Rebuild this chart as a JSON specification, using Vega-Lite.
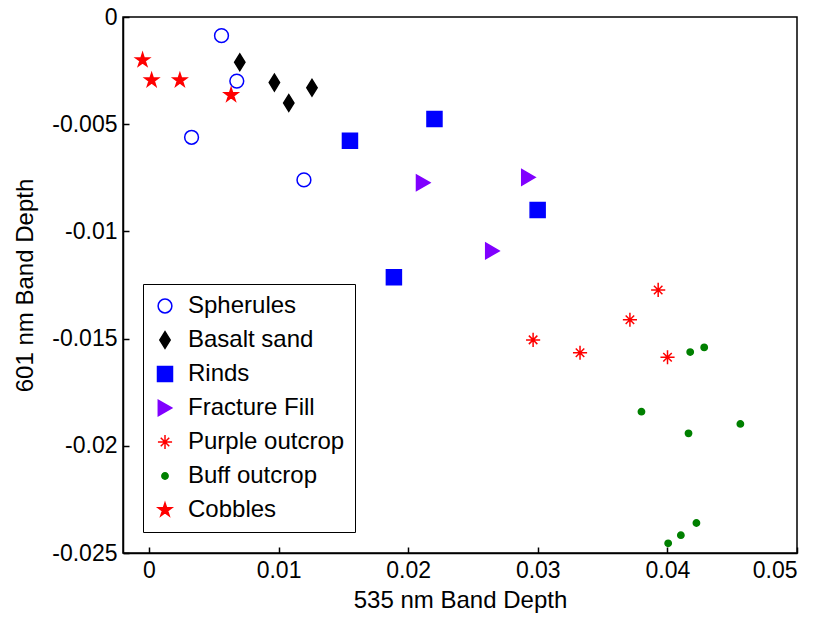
{
  "$schema": "https://vega.github.io/schema/vega-lite/v6.json",
  "width": 674,
  "height": 536,
  "autosize": "none",
  "padding": {"left": 123, "top": 17, "right": 25, "bottom": 67},
  "background": "white",
  "data": {"values": [
    {"group": "Spherules", "x": 0.0056, "y": -0.00087},
    {"group": "Spherules", "x": 0.00678, "y": -0.00299},
    {"group": "Spherules", "x": 0.00329, "y": -0.00561},
    {"group": "Spherules", "x": 0.01196, "y": -0.0076},
    {"group": "Basalt sand", "x": 0.00701, "y": -0.00211},
    {"group": "Basalt sand", "x": 0.00968, "y": -0.00306},
    {"group": "Basalt sand", "x": 0.01079, "y": -0.00401},
    {"group": "Basalt sand", "x": 0.01258, "y": -0.0033},
    {"group": "Rinds", "x": 0.02203, "y": -0.00476},
    {"group": "Rinds", "x": 0.01551, "y": -0.00577},
    {"group": "Rinds", "x": 0.02999, "y": -0.009},
    {"group": "Rinds", "x": 0.0189, "y": -0.01214},
    {"group": "Fracture Fill", "x": 0.02116, "y": -0.00773},
    {"group": "Fracture Fill", "x": 0.02928, "y": -0.00748},
    {"group": "Fracture Fill", "x": 0.0265, "y": -0.01091},
    {"group": "Purple outcrop", "x": 0.03929, "y": -0.01273},
    {"group": "Purple outcrop", "x": 0.03711, "y": -0.01412},
    {"group": "Purple outcrop", "x": 0.02964, "y": -0.01506},
    {"group": "Purple outcrop", "x": 0.03326, "y": -0.01566},
    {"group": "Purple outcrop", "x": 0.04001, "y": -0.01587},
    {"group": "Buff outcrop", "x": 0.04176, "y": -0.01563},
    {"group": "Buff outcrop", "x": 0.04284, "y": -0.01541},
    {"group": "Buff outcrop", "x": 0.038, "y": -0.01841},
    {"group": "Buff outcrop", "x": 0.04163, "y": -0.01942},
    {"group": "Buff outcrop", "x": 0.04563, "y": -0.01898},
    {"group": "Buff outcrop", "x": 0.04224, "y": -0.0236},
    {"group": "Buff outcrop", "x": 0.04104, "y": -0.02417},
    {"group": "Buff outcrop", "x": 0.04006, "y": -0.02455},
    {"group": "Cobbles", "x": -0.00049, "y": -0.00201},
    {"group": "Cobbles", "x": 0.00021, "y": -0.00295},
    {"group": "Cobbles", "x": 0.00239, "y": -0.00295},
    {"group": "Cobbles", "x": 0.00634, "y": -0.00364}
  ]},
  "mark": {"type": "point", "opacity": 1, "fillOpacity": 1, "strokeWidth": 1.5},
  "encoding": {
    "x": {"field": "x", "type": "quantitative",
      "scale": {"domain": [-0.002, 0.05], "nice": false, "zero": false},
      "axis": {"orient": "bottom", "values": [0, 0.01, 0.02, 0.03, 0.04, 0.05], "labelExpr": "replace(format(datum.value, '~g'), '\u2212', '-')", "title": "535 nm Band Depth", "grid": false, "tickSize": -6, "labelPadding": 12, "titlePadding": 6}},
    "y": {"field": "y", "type": "quantitative",
      "scale": {"domain": [-0.025, 0], "nice": false, "zero": false},
      "axis": {"orient": "left", "values": [0, -0.005, -0.01, -0.015, -0.02, -0.025], "labelExpr": "replace(format(datum.value, '~g'), '\u2212', '-')", "title": "601 nm Band Depth", "grid": false, "tickSize": -6, "labelPadding": 12, "titlePadding": 14}},
    "shape": {"field": "group", "type": "nominal",
      "scale": {"domain": ["Spherules", "Basalt sand", "Rinds", "Fracture Fill", "Purple outcrop", "Buff outcrop", "Cobbles"],
        "range": ["circle", "M0,-1L0.62,0L0,1L-0.62,0Z", "square", "triangle-right", "M-1,0L1,0M0,-1L0,1M-0.6,-0.6L0.6,0.6M-0.6,0.6L0.6,-0.6", "circle", "M0,-1L0.2234,-0.3074L0.9511,-0.309L0.3614,0.1174L0.5878,0.809L0,0.38L-0.5878,0.809L-0.3614,0.1174L-0.9511,-0.309L-0.2234,-0.3074Z"]},
      "legend": {"title": null, "orient": "none", "legendX": 20, "legendY": 267}},
    "fill": {"field": "group", "type": "nominal",
      "scale": {"domain": ["Spherules", "Basalt sand", "Rinds", "Fracture Fill", "Purple outcrop", "Buff outcrop", "Cobbles"],
        "range": ["transparent", "#000000", "#0000ff", "#8000ff", "#ff0000", "#008000", "#ff0000"]},
      "legend": {"title": null, "orient": "none", "legendX": 20, "legendY": 267}},
    "stroke": {"field": "group", "type": "nominal",
      "scale": {"domain": ["Spherules", "Basalt sand", "Rinds", "Fracture Fill", "Purple outcrop", "Buff outcrop", "Cobbles"],
        "range": ["#0000ff", "#000000", "#0000ff", "#8000ff", "#ff0000", "#008000", "#ff0000"]},
      "legend": {"title": null, "orient": "none", "legendX": 20, "legendY": 267}},
    "size": {"field": "group", "type": "nominal",
      "scale": {"type": "ordinal", "domain": ["Spherules", "Basalt sand", "Rinds", "Fracture Fill", "Purple outcrop", "Buff outcrop", "Cobbles"],
        "range": [190, 280, 225, 240, 200, 40, 200]},
      "legend": {"title": null, "orient": "none", "legendX": 20, "legendY": 267}}
  },
  "config": {
    "view": {"stroke": "#000000", "strokeWidth": 1.5},
    "font": "Liberation Sans",
    "axis": {"labelFont": "Liberation Sans", "labelFontSize": 23, "labelColor": "#000000", "titleFont": "Liberation Sans", "titleFontSize": 24, "titleFontWeight": "normal", "titleColor": "#000000", "domainColor": "#000000", "domainWidth": 1.5, "tickColor": "#000000", "tickWidth": 1.5},
    "legend": {"labelFont": "Liberation Sans", "labelFontSize": 24, "labelColor": "#000000", "strokeColor": "#000000", "fillColor": "#ffffff", "padding": 10, "rowPadding": 10, "labelOffset": 11, "symbolStrokeWidth": 1.5, "labelLimit": 300}
  }
}
